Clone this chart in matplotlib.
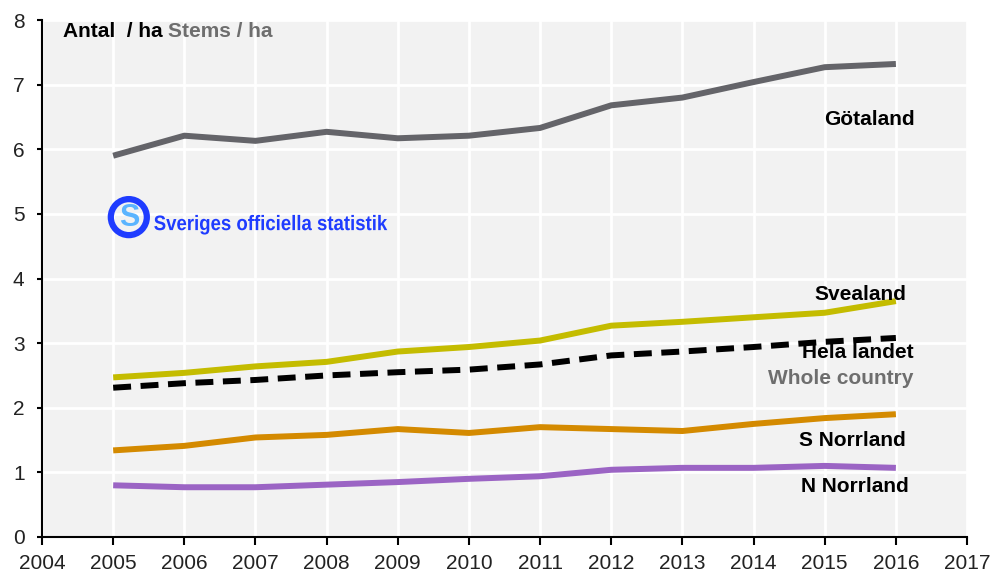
import numpy as np
import matplotlib.pyplot as plt
from matplotlib.patches import Ellipse, PathPatch
from matplotlib.textpath import TextPath
from matplotlib.font_manager import FontProperties
from matplotlib.transforms import Affine2D

years = [2005, 2006, 2007, 2008, 2009, 2010, 2011, 2012, 2013, 2014, 2015, 2016]

gotaland = [5.90, 6.21, 6.13, 6.27, 6.17, 6.21, 6.33, 6.68, 6.80, 7.04, 7.27, 7.32]
svealand = [2.47, 2.54, 2.64, 2.71, 2.87, 2.94, 3.04, 3.27, 3.33, 3.40, 3.47, 3.65]
hela_landet = [2.31, 2.38, 2.43, 2.50, 2.55, 2.59, 2.67, 2.81, 2.87, 2.94, 3.02, 3.08]
s_norrland = [1.34, 1.41, 1.54, 1.58, 1.67, 1.61, 1.70, 1.67, 1.64, 1.75, 1.84, 1.90]
n_norrland = [0.80, 0.77, 0.77, 0.81, 0.85, 0.90, 0.94, 1.04, 1.07, 1.07, 1.10, 1.07]

plt.rcParams['font.family'] = ['Liberation Sans', 'DejaVu Sans']

fig = plt.figure(figsize=(9.91, 5.72), dpi=100)
ax = fig.add_axes([0.0424, 0.0612, 0.9334, 0.9038])
ax.set_facecolor('#f2f2f2')

lw = 4.3
ax.plot(years, gotaland, color='#646469', lw=lw, solid_capstyle='butt', zorder=3)
ax.plot(years, svealand, color='#c4bc00', lw=lw, solid_capstyle='butt', zorder=3)
ax.plot(years, s_norrland, color='#d48a00', lw=lw, solid_capstyle='butt', zorder=3)
ax.plot(years, n_norrland, color='#9b64c4', lw=lw, solid_capstyle='butt', zorder=3)
ax.plot(years, hela_landet, color='black', lw=lw, dashes=(3.0, 1.6), zorder=4)

ax.set_xlim(2004, 2017)
ax.set_ylim(0, 8)
ax.set_xticks(range(2004, 2018))
ax.set_yticks(range(0, 9))
ax.grid(True, color='white', lw=2)
ax.set_axisbelow(True)

for s in ['top', 'right']:
    ax.spines[s].set_visible(False)
for s in ['left', 'bottom']:
    ax.spines[s].set_linewidth(1.5)
    ax.spines[s].set_color('black')
ax.tick_params(axis='x', length=6, width=1.5, labelsize=15, pad=6, labelcolor='#222222')
ax.tick_params(axis='y', length=3.6, width=1.5, labelsize=15, pad=9, labelcolor='#222222')

lab = dict(fontsize=15, fontweight='bold', color='black', ha='right', va='center', zorder=5)
ax.text(2016.27, 6.46, 'Götaland', **lab)
ax.text(2016.14, 3.76, 'Svealand', **lab)
ax.text(2016.25, 2.85, 'Hela landet', **lab)
ax.text(2016.24, 2.45, 'Whole country', fontsize=15, fontweight='bold', color='#6e6e6e',
        ha='right', va='center', zorder=5)
ax.text(2016.14, 1.49, 'S Norrland', **lab)
ax.text(2016.18, 0.78, 'N Norrland', **lab)

# title inside plot area
t1 = ax.text(0.0227, 0.997, 'Antal  / ha ', transform=ax.transAxes, fontsize=15,
             fontweight='bold', color='black', ha='left', va='top')
fig.canvas.draw()
bb = t1.get_window_extent().transformed(ax.transAxes.inverted())
ax.text(bb.x1, 0.997, 'Stems / ha', transform=ax.transAxes, fontsize=15,
        fontweight='bold', color='#6e6e6e', ha='left', va='top')

# logo
ax.add_patch(Ellipse((2005.22, 4.95), 2 * 18 / 71.15, 2 * 18 / 64.6, fill=False,
                     ec='#1f3cff', lw=4.5, zorder=5))
ax.text(2005.23, 4.94, 'S', fontsize=22, fontweight='bold', color='#5ab4ff',
        ha='center', va='center', zorder=6)
tp = TextPath((0, 0), 'Sveriges officiella statistik', size=21,
              prop=FontProperties(family='Liberation Sans', weight='bold'))
w = tp.get_extents().width
x0, y0 = ax.transData.transform((2005.57, 4.95))
tr = Affine2D().scale(233 / w, 1.0).translate(x0, y0 - 13)
ax.add_patch(PathPatch(tp, transform=tr, fc='#1f3cff', ec='none', zorder=5))

fig.savefig('out.png', dpi=100)
